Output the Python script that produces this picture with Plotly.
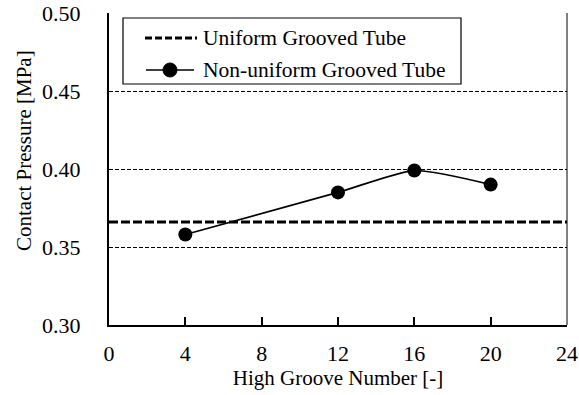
import plotly.graph_objects as go

groove_number = [4, 12, 16, 20]
nonuniform_pressure = [0.358, 0.385, 0.399, 0.390]
uniform_pressure = 0.366
x_range = [0, 24]
y_range = [0.30, 0.50]
x_ticks = [0, 4, 8, 12, 16, 20, 24]
y_ticks = [0.30, 0.35, 0.40, 0.45, 0.50]
y_tick_labels = ["0.30", "0.35", "0.40", "0.45", "0.50"]
legend_names = ["Uniform Grooved Tube", "Non-uniform Grooved Tube"]
x_title = "High Groove Number [-]"
y_title = "Contact Pressure [MPa]"

FONT = "Liberation Serif"

fig = go.Figure()
fig.add_trace(go.Scatter(
    x=x_range, y=[uniform_pressure, uniform_pressure],
    mode="lines", name=legend_names[0],
    line=dict(color="black", width=3, dash="9px,3px"),
))
fig.add_trace(go.Scatter(
    x=groove_number, y=nonuniform_pressure,
    mode="lines+markers", name=legend_names[1],
    line=dict(color="black", width=1.7, shape="spline", smoothing=0.6),
    marker=dict(color="black", size=14),
))

# manual legend (paper coordinates)
PW, PH = 458.0, 312.0
def px(x):
    return (x - 109) / PW
def py(y):
    return (325 - y) / PH

shapes = [
    dict(type="line", xref="paper", yref="paper", x0=1, x1=1, y0=0, y1=1,
         line=dict(color="black", width=1)),
    dict(type="rect", xref="paper", yref="paper", x0=px(123), x1=px(461),
         y0=py(84), y1=py(18), fillcolor="white", line=dict(color="black", width=1.2)),
    dict(type="line", xref="paper", yref="paper", x0=px(145), x1=px(197),
         y0=py(38), y1=py(38), line=dict(color="black", width=3, dash="7px,3px")),
    dict(type="line", xref="paper", yref="paper", x0=px(146), x1=px(194),
         y0=py(70), y1=py(70), line=dict(color="black", width=1.5)),
    dict(type="circle", xref="paper", yref="paper", x0=px(163), x1=px(177),
         y0=py(77), y1=py(63), fillcolor="black", line=dict(color="black", width=1)),
]
annotations = [
    dict(xref="paper", yref="paper", x=px(201), y=py(38), xanchor="left", yanchor="middle",
         text=legend_names[0], showarrow=False, font=dict(family=FONT, size=21.5, color="black")),
    dict(xref="paper", yref="paper", x=px(201), y=py(70), xanchor="left", yanchor="middle",
         text=legend_names[1], showarrow=False, font=dict(family=FONT, size=21.5, color="black")),
    dict(xref="paper", yref="paper", x=px(24), y=py(151), xanchor="center", yanchor="middle",
         text=y_title, textangle=-90, showarrow=False,
         font=dict(family=FONT, size=21, color="black")),
]

fig.update_layout(
    width=579, height=395,
    margin=dict(l=109, r=12, t=13, b=70),
    paper_bgcolor="white", plot_bgcolor="white",
    font=dict(family=FONT, size=21, color="black"),
    showlegend=False,
    xaxis=dict(
        range=x_range, tickvals=x_ticks, ticks="inside", ticklen=8,
        tickwidth=1.5, tickcolor="black",
        showline=True, linecolor="black", linewidth=2,
        showgrid=False, zeroline=False, automargin=False,
        tickfont=dict(family=FONT, size=22, color="black"),
        ticklabelstandoff=8,
        title=dict(text=x_title, font=dict(family=FONT, size=21, color="black"), standoff=2),
    ),
    yaxis=dict(
        range=y_range, tickvals=y_ticks, ticktext=y_tick_labels, ticks="",
        showline=True, linecolor="black", linewidth=2,
        showgrid=True, gridcolor="black", gridwidth=1, griddash="4px,2px",
        zeroline=False, automargin=False,
        tickfont=dict(family=FONT, size=22, color="black"),
        ticklabelstandoff=22,
    ),
    shapes=shapes,
    annotations=annotations,
)

fig.write_html("out.html")
